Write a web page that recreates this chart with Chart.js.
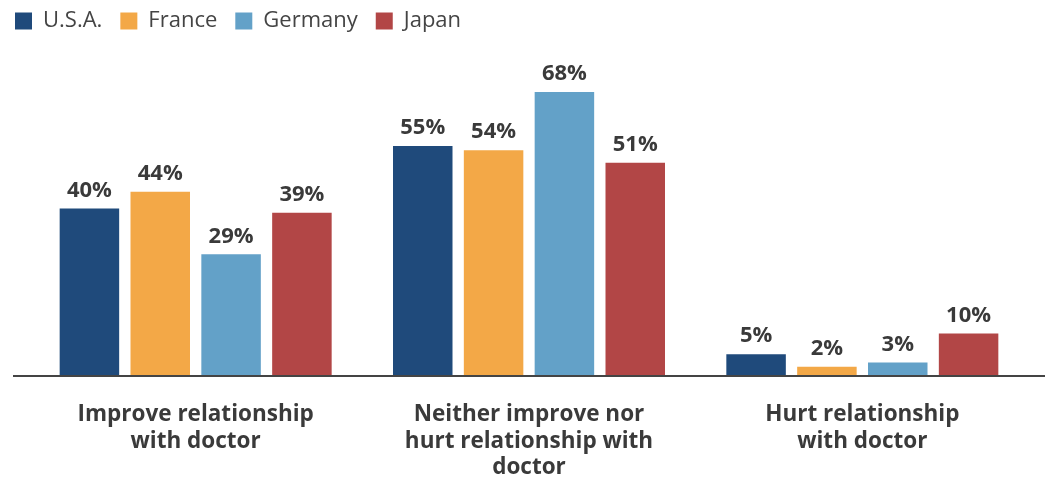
<!DOCTYPE html>
<html>
<head>
<meta charset="utf-8">
<script src="https://cdn.jsdelivr.net/npm/chart.js@4"></script>
<style>
    html, body { margin: 0; padding: 0; background: #fff; }
    #wrap { width: 1050px; height: 478px; position: relative; }
</style>
</head>
<body>
<div id="wrap"><canvas id="chart"></canvas></div>
<script>
// categories and series
const categories = [
    ['Improve relationship', 'with doctor'],
    ['Neither improve nor', 'hurt relationship with', 'doctor'],
    ['Hurt relationship', 'with doctor']
];
const usa = [40, 55, 5];
const france = [44, 54, 2];
const germany = [29, 68, 3];
const japan = [39, 51, 10];

const seriesNames = ['U.S.A.', 'France', 'Germany', 'Japan'];
const seriesColors = ['#1F4A7B', '#F3A847', '#63A1C8', '#B24646'];

const FONT = "'Open Sans', 'DejaVu Sans', sans-serif";
const TEXT = '#3a3a3a';

//..value labels above each bar
const barLabels = {
    id: 'barLabels',
    afterDatasetsDraw(chart) {
        const ctx = chart.ctx;
        ctx.save();
        ctx.font = `bold 22px ${FONT}`;
        ctx.fillStyle = TEXT;
        ctx.textAlign = 'center';
        ctx.textBaseline = 'bottom';
        chart.data.datasets.forEach((ds, i) => {
            chart.getDatasetMeta(i).data.forEach((bar, j) => {
                ctx.fillText(ds.data[j] + '%', bar.x, bar.y - 7);
            });
        });
        ctx.restore();
    }
};

//..baseline wider than the plot area
const baseLine = {
    id: 'baseLine',
    afterDatasetsDraw(chart) {
        const ctx = chart.ctx;
        const y = chart.scales.y.getPixelForValue(0);
        ctx.save();
        ctx.strokeStyle = '#444';
        ctx.lineWidth = 2;
        ctx.beginPath();
        ctx.moveTo(13, y + 1);
        ctx.lineTo(1045, y + 1);
        ctx.stroke();
        ctx.restore();
    }
};

const datasets = [usa, france, germany, japan].map((d, i) => ({
    label: seriesNames[i],
    data: d,
    backgroundColor: seriesColors[i],
    borderWidth: 0,
    categoryPercentage: 0.85,
    barPercentage: 0.84
}));

new Chart(document.getElementById('chart'), {
    type: 'bar',
    data: { labels: categories, datasets: datasets },
    options: {
        responsive: true,
        maintainAspectRatio: false,
        animation: false,
        layout: { padding: { left: -3, right: 21, top: -8, bottom: 0 } },
        scales: {
            x: {
                grid: { display: false, drawTicks: false },
                border: { display: false },
                ticks: {
                    color: TEXT,
                    padding: 27,
                    font: { family: FONT, size: 22.5, weight: 'bold', lineHeight: 1.16 },
                    maxRotation: 0,
                    autoSkip: false
                },
                afterFit(scale) { scale.height = 103; }
            },
            y: {
                min: 0,
                max: 80,
                grid: { display: false, drawTicks: false },
                border: { display: false },
                ticks: { display: false },
                afterFit(scale) { scale.width = 32; }
            }
        },
        plugins: {
            legend: {
                position: 'top',
                align: 'start',
                labels: {
                    color: '#444',
                    font: { family: FONT, size: 22 },
                    boxWidth: 17,
                    boxHeight: 17,
                    padding: 18,
                    useBorderRadius: false
                }
            },
            tooltip: { enabled: false }
        }
    },
    plugins: [barLabels, baseLine]
});
</script>
</body>
</html>
